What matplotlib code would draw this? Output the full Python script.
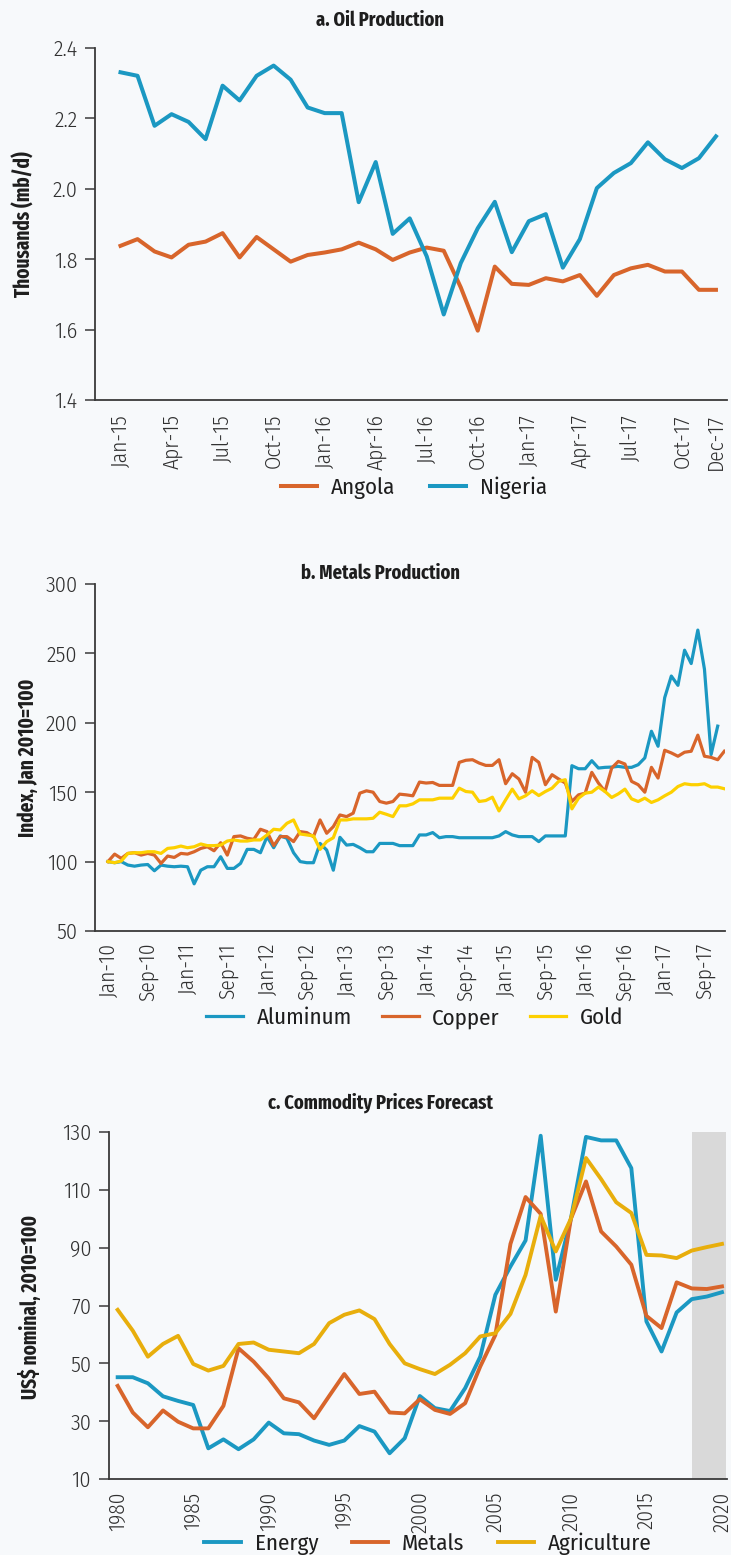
import matplotlib
matplotlib.use("Agg")
import matplotlib.pyplot as plt
import numpy as np

plt.rcParams["font.family"] = ["Fira Sans Condensed", "DejaVu Sans"]

# --- panel a: oil production, monthly Jan-15 .. Dec-17 ---
oil_ticks = [0, 3, 6, 9, 12, 15, 18, 21, 24, 27, 30, 33, 35]
oil_labels = ["Jan-15", "Apr-15", "Jul-15", "Oct-15", "Jan-16", "Apr-16", "Jul-16",
              "Oct-16", "Jan-17", "Apr-17", "Jul-17", "Oct-17", "Dec-17"]
angola = [1.838, 1.857, 1.822, 1.805, 1.841, 1.850, 1.874, 1.805, 1.863, 1.828,
          1.793, 1.812, 1.819, 1.828, 1.847, 1.828, 1.798, 1.819, 1.833, 1.824,
          1.720, 1.597, 1.779, 1.730, 1.727, 1.746, 1.737, 1.755, 1.696, 1.755,
          1.774, 1.784, 1.765, 1.765, 1.713, 1.713]
nigeria = [2.331, 2.321, 2.179, 2.212, 2.190, 2.141, 2.293, 2.251, 2.321, 2.350,
           2.310, 2.231, 2.215, 2.215, 1.962, 2.076, 1.872, 1.916, 1.808, 1.643,
           1.789, 1.888, 1.963, 1.820, 1.908, 1.928, 1.776, 1.857, 2.002, 2.045,
           2.073, 2.132, 2.084, 2.059, 2.087, 2.149]

# --- panel b: metals production index ---
metal_ticks = [0, 6, 12, 18, 24, 30, 36, 42, 48, 54, 60, 66, 72, 78, 84, 90]
metal_labels = ["Jan-10", "Sep-10", "Jan-11", "Sep-11", "Jan-12", "Sep-12", "Jan-13",
                "Sep-13", "Jan-14", "Sep-14", "Jan-15", "Sep-15", "Jan-16", "Sep-16",
                "Jan-17", "Sep-17"]
aluminum = [100, 99.2, 100, 97.5, 96.7, 97.5, 97.9, 93.4, 97.5, 96.7,
            96.3, 96.7, 96.3, 84.0, 93.8, 96.3, 96.3, 103.5, 95.1, 95.1,
            98.7, 108.8, 108.8, 106.4, 118.0, 110.0, 118.5, 116.8, 106.4, 100.0,
            99.2, 99.2, 113.1, 108.3, 93.8, 117.5, 111.9, 112.4, 110.0, 107.1,
            107.1, 113.1, 113.1, 113.1, 111.5, 111.5, 111.5, 119.2, 119.2, 120.9,
            117.2, 118.0, 118.0, 117.2, 117.2, 117.2, 117.2, 117.2, 117.2, 118.5,
            121.6, 119.2, 118.0, 118.0, 118.0, 114.4, 118.5, 118.5, 118.5, 118.5,
            169.1, 166.9, 166.9, 172.7, 167.4, 167.9, 168.1, 168.6, 167.9, 167.9,
            169.8, 174.7, 193.9, 183.1, 218.1, 233.7, 227.0, 252.3, 242.7, 266.8,
            238.6, 177.1, 197.6, np.nan]
copper = [100, 105.4, 102.3, 105.9, 106.4, 104.7, 105.9, 104.7, 98.7, 104.0,
          103.0, 105.9, 105.4, 107.1, 109.5, 110.7, 107.8, 113.6, 104.7, 118.0,
          118.5, 116.8, 116.0, 123.3, 121.6, 111.5, 118.0, 118.0, 114.4, 121.6,
          120.9, 118.0, 130.0, 120.4, 125.2, 133.6, 132.4, 134.9, 149.3, 151.0,
          150.0, 143.3, 142.1, 143.3, 148.6, 148.1, 147.4, 157.3, 156.6, 157.0,
          154.9, 154.9, 154.9, 171.5, 173.0, 173.4, 171.0, 169.3, 169.3, 173.4,
          156.1, 163.3, 159.5, 150.0, 175.1, 171.5, 155.4, 162.6, 159.5, 156.6,
          143.3, 148.1, 149.3, 164.3, 156.6, 150.5, 167.4, 172.2, 170.3, 157.8,
          155.4, 150.0, 167.9, 160.2, 180.2, 178.3, 175.9, 178.8, 179.5, 191.1,
          175.9, 175.1, 173.4, 179.5]
gold = [100, 99.2, 100.4, 105.9, 106.4, 106.4, 107.1, 107.1, 105.9, 109.5,
        110.0, 111.2, 110.0, 110.7, 112.7, 111.5, 111.5, 111.9, 114.8, 115.6,
        114.8, 114.8, 115.6, 115.6, 119.2, 123.3, 122.8, 127.6, 130.0, 119.9,
        119.2, 118.5, 108.8, 114.4, 117.2, 130.0, 130.0, 130.8, 130.8, 130.8,
        131.2, 135.6, 134.1, 132.4, 140.2, 140.2, 141.6, 144.5, 144.5, 144.5,
        145.7, 145.7, 145.7, 152.9, 150.5, 150.0, 143.3, 144.0, 146.4, 136.5,
        144.5, 152.2, 145.2, 147.4, 151.0, 147.6, 150.5, 152.9, 157.8, 159.0,
        138.0, 145.7, 149.3, 150.0, 153.7, 150.5, 146.2, 148.8, 152.2, 145.2,
        143.3, 145.7, 142.6, 144.5, 147.4, 150.0, 154.1, 156.1, 155.4, 155.4,
        156.1, 153.7, 153.7, 152.5]

# --- panel c: commodity prices, annual 1980..2020 (2018+ forecast) ---
years = list(range(1980, 2021))
forecast_start = 2018
energy = [45.2, 45.2, 43.1, 38.6, 37.0, 35.6, 20.6, 23.7, 20.3, 23.7,
          29.5, 25.8, 25.5, 23.3, 21.8, 23.3, 28.3, 26.4, 18.9, 24.1,
          38.7, 34.5, 33.5, 41.4, 52.3, 73.7, 83.5, 92.5, 128.7, 78.9,
          100.0, 128.3, 127.1, 127.1, 117.5, 64.5, 54.1, 67.6, 72.2, 73.1, 74.6]
metals = [42.2, 33.0, 27.9, 33.7, 29.8, 27.5, 27.5, 35.3, 55.2, 50.6,
          44.8, 37.9, 36.5, 31.0, 38.7, 46.3, 39.4, 40.2, 33.0, 32.7,
          37.6, 33.9, 32.5, 36.2, 48.9, 59.8, 91.3, 107.5, 101.7, 67.9,
          100.0, 112.9, 95.6, 90.4, 84.1, 66.4, 62.2, 78.0, 75.9, 75.7, 76.6]
agriculture = [68.5, 61.3, 52.3, 56.7, 59.5, 49.8, 47.5, 49.1, 56.7, 57.2,
               54.7, 54.1, 53.5, 56.7, 63.9, 66.8, 68.3, 65.3, 56.7, 50.0,
               48.0, 46.3, 49.5, 53.5, 59.3, 60.4, 67.1, 80.6, 101.0, 88.7,
               100.0, 121.0, 113.7, 105.7, 102.0, 87.5, 87.3, 86.4, 89.0, 90.2, 91.3]

BG = "#f7f9fb"
BLUE = "#1b98c2"
ORANGE = "#d8652b"
GOLD = "#fdd000"
AGRI = "#e8ae0c"
AXIS = "#3a3a3a"
TXT = "#1e1e1e"
TICK_TXT = "#303030"
BOLD_FAMILY = ["Fira Sans Extra Condensed", "DejaVu Sans"]

W, H = 731, 1555
fig = plt.figure(figsize=(W / 100, H / 100), dpi=100, facecolor=BG)


def add_axes(left, top, right, bottom, xpad):
    ax = fig.add_axes([left / W, 1 - bottom / H, (right - left) / W, (bottom - top) / H])
    ax.set_facecolor("none")
    for side in ("top", "right"):
        ax.spines[side].set_visible(False)
    for side in ("left", "bottom"):
        ax.spines[side].set_color(AXIS)
        ax.spines[side].set_linewidth(1.3)
    ax.tick_params(axis="y", length=7.5, width=1.1, color=AXIS, pad=5,
                   labelsize=16, labelcolor=TICK_TXT)
    ax.tick_params(axis="x", length=0, pad=xpad, labelsize=15.5,
                   labelcolor=TICK_TXT, labelrotation=90)
    return ax


def finish_ticks(ax):
    for lab in ax.get_xticklabels() + ax.get_yticklabels():
        lab.set_fontweight(300)


def title(y, text):
    fig.text(380 / W, 1 - y / H, text, ha="center", va="center", family=BOLD_FAMILY,
             fontsize=14.5, fontweight="bold", color=TXT)


def ylabel(x, y, text):
    fig.text(x / W, 1 - y / H, text, ha="center", va="center", rotation=90,
             family=BOLD_FAMILY, fontsize=15, fontweight="bold", color=TXT)


def legend(ax, y, xc, spacing):
    fig.legend(*ax.get_legend_handles_labels(), loc="center",
               bbox_to_anchor=(xc / W, 1 - y / H), ncol=3, frameon=False,
               fontsize=16.5, handlelength=1.6, columnspacing=spacing,
               handletextpad=0.6, labelcolor=TXT)


# panel a
ax = add_axes(95, 48, 727, 400, 10)
x = np.arange(len(angola))
ax.plot(x, angola, color=ORANGE, lw=2.9, label="Angola")
ax.plot(x, nigeria, color=BLUE, lw=2.9, label="Nigeria")
ax.set_xlim(-1.5, 35.65)
ax.set_ylim(1.4, 2.4)
ax.set_yticks([1.4, 1.6, 1.8, 2.0, 2.2, 2.4])
ax.set_yticklabels(["1.4", "1.6", "1.8", "2.0", "2.2", "2.4"])
ax.set_xticks(oil_ticks)
ax.set_xticklabels(oil_labels)
finish_ticks(ax)
title(20, "a. Oil Production")
ylabel(24, 224, "Thousands (mb/d)")
legend(ax, 488, 414, 1.5)

# panel b
ax = add_axes(95, 584, 725, 931, 8.5)
x = np.arange(len(copper))
ax.plot(x, aluminum, color=BLUE, lw=2.3, label="Aluminum")
ax.plot(x, copper, color=ORANGE, lw=2.3, label="Copper")
ax.plot(x, gold, color=GOLD, lw=2.3, label="Gold")
ax.set_xlim(-1.96, 93.1)
ax.set_ylim(50, 300)
ax.set_yticks([50, 100, 150, 200, 250, 300])
ax.set_xticks(metal_ticks)
ax.set_xticklabels(metal_labels)
finish_ticks(ax)
title(573, "b. Metals Production")
ylabel(28, 758, "Index, Jan 2010=100")
legend(ax, 1018, 415, 1.3)

# panel c
ax = add_axes(108.6, 1132, 726.5, 1479, 9)
ax.axvspan(forecast_start, 2020.3, color="#d9d9d9", lw=0, zorder=0)
ax.plot(years, energy, color=BLUE, lw=2.8, label="Energy")
ax.plot(years, metals, color=ORANGE, lw=2.8, label="Metals")
ax.plot(years, agriculture, color=AGRI, lw=2.8, label="Agriculture")
ax.set_xlim(1979.4, 2020.3)
ax.set_ylim(10, 130)
ax.set_yticks([10, 30, 50, 70, 90, 110, 130])
ax.set_xticks(list(range(1980, 2021, 5)))
finish_ticks(ax)
title(1103, "c. Commodity Prices Forecast")
ylabel(30, 1307, "US$ nominal, 2010=100")
legend(ax, 1544, 428, 1.45)

fig.savefig("out.png", dpi=100, facecolor=BG)
